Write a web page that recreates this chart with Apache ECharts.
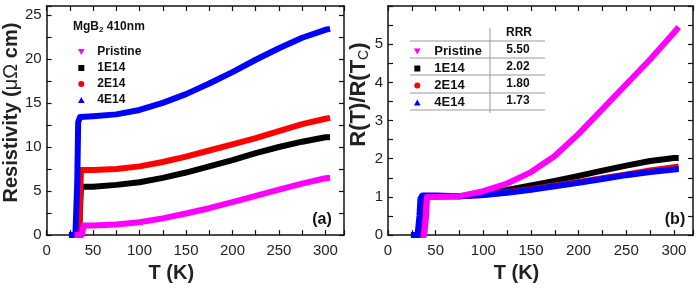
<!DOCTYPE html>
<html>
<head>
<meta charset="utf-8">
<script src="https://cdn.jsdelivr.net/npm/echarts@6/dist/echarts.min.js"></script>
<style>
  html, body { margin: 0; padding: 0; background: #fff; }
  #chart { width: 698px; height: 288px; }
</style>
</head>
<body>
<div id="chart"></div>
<script>
// panel (a): resistivity (μΩ cm) vs T (K)
const tPristineA = [30, 38, 39, 40, 50, 75, 100, 125, 150, 175, 200, 225, 250, 275, 300, 305]
const rhoPristine = [0, 0, 0.6, 1.1, 1.1, 1.2, 1.45, 1.9, 2.45, 3.05, 3.75, 4.45, 5.15, 5.85, 6.45, 6.5]
const tDoseA = [30, 35, 36, 37, 50, 75, 100, 125, 150, 175, 200, 225, 250, 275, 300, 305]
const rho1E14 = [0, 0, 3, 5.5, 5.5, 5.7, 6.0, 6.5, 7.1, 7.8, 8.5, 9.3, 10.0, 10.6, 11.1, 11.1]
const rho2E14 = [0, 0, 4, 7.4, 7.4, 7.5, 7.8, 8.3, 8.9, 9.6, 10.3, 11.0, 11.8, 12.6, 13.2, 13.3]
const t4E14A = [24, 31, 33, 34, 36, 50, 75, 100, 125, 150, 175, 200, 225, 250, 275, 300, 305]
const rho4E14 = [0, 0, 6, 12.8, 13.4, 13.5, 13.7, 14.2, 15.0, 16.0, 17.2, 18.5, 19.9, 21.2, 22.4, 23.3, 23.4]

// panel (b): R(T)/R(Tc) vs T (K)
const tPristineB = [35, 38, 40, 41, 50, 75, 100, 125, 150, 175, 200, 225, 250, 275, 300, 305]
const ratioPristine = [0, 0, 0.5, 1.0, 1.0, 1.02, 1.15, 1.35, 1.65, 2.07, 2.65, 3.3, 3.95, 4.6, 5.3, 5.45]
const tDoseB = [30, 35, 36, 37, 50, 75, 100, 125, 150, 175, 200, 225, 250, 275, 300, 305]
const ratio1E14 = [0, 0, 0.6, 1.02, 1.02, 1.02, 1.08, 1.18, 1.3, 1.42, 1.55, 1.69, 1.82, 1.94, 2.02, 2.02]
const ratio2E14 = [0, 0, 0.6, 1.02, 1.02, 1.02, 1.05, 1.12, 1.2, 1.3, 1.39, 1.49, 1.59, 1.69, 1.78, 1.8]
const t4E14B = [24, 31, 33, 34, 36, 50, 75, 100, 125, 150, 175, 200, 225, 250, 275, 300, 305]
const ratio4E14 = [0, 0, 0.5, 0.95, 1.04, 1.04, 1.02, 1.05, 1.11, 1.19, 1.28, 1.37, 1.47, 1.57, 1.65, 1.72, 1.73]

const sampleNames = ['Pristine', '1E14', '2E14', '4E14']
const rrrValues = ['5.50', '2.02', '1.80', '1.73']
const sampleColors = ['#ff00ff', '#000000', '#ff0000', '#0000ff']
const sampleIcons = [
  'path://M0,0L10,0L5,9Z',
  'path://M0,0H10V10H0Z',
  'path://M5,0A5,5,0,1,1,5,10A5,5,0,1,1,5,0Z',
  'path://M5,0L10,9L0,9Z'
]

const FONT = 'Liberation Sans, Arial, Helvetica, sans-serif'

function pairs(xs, ys) {
  return xs.map((x, i) => [x, ys[i]])
}

const chart = echarts.init(document.getElementById('chart'))

function xAxisFor(grid, top) {
  return {
    type: 'value',
    gridIndex: grid,
    position: top ? 'top' : 'bottom',
    min: 0,
    max: 320,
    interval: 25,
    axisLine: { show: true, onZero: false, lineStyle: { color: '#111', width: 1.5 } },
    axisTick: { show: true, inside: true, length: 5, lineStyle: { color: '#111', width: 1.2 } },
    axisLabel: {
      show: !top,
      margin: 8,
      fontSize: 15,
      fontFamily: FONT,
      color: '#222',
      formatter: v => (v % 50 === 0 ? String(v) : '')
    },
    splitLine: { show: false },
    name: top ? '' : 'T (K)',
    nameLocation: 'middle',
    nameGap: 27,
    nameTextStyle: { fontSize: 20, fontWeight: 'bold', fontFamily: FONT, color: '#222', padding: [0, 48, 0, 0] }
  }
}

function yAxisFor(grid, right, max, step, labelStep, name, gap, size, shift, rich) {
  return {
    type: 'value',
    gridIndex: grid,
    position: right ? 'right' : 'left',
    min: 0,
    max: max,
    interval: step,
    axisLine: { show: true, onZero: false, lineStyle: { color: '#111', width: 1.5 } },
    axisTick: { show: true, inside: true, length: 5, lineStyle: { color: '#111', width: 1.2 } },
    axisLabel: {
      show: !right,
      margin: 5,
      fontSize: 15,
      fontFamily: FONT,
      color: '#222',
      formatter: v => (Math.abs(v / labelStep - Math.round(v / labelStep)) < 1e-6 && v < max ? String(v) : '')
    },
    splitLine: { show: false },
    name: right ? '' : name,
    nameLocation: 'middle',
    nameGap: gap,
    nameTextStyle: {
      fontSize: size, fontWeight: 'bold', fontFamily: FONT, color: '#222',
      padding: [0, 0, 0, shift || 0], rich: rich
    }
  }
}

const panelA = [rhoPristine, rho1E14, rho2E14, rho4E14]
const panelATemps = [tPristineA, tDoseA, tDoseA, t4E14A]
const panelB = [ratioPristine, ratio1E14, ratio2E14, ratio4E14]
const panelBTemps = [tPristineB, tDoseB, tDoseB, t4E14B]

const series = []
sampleNames.forEach((name, i) => {
  series.push({
    name: name,
    type: 'line',
    xAxisIndex: 0,
    yAxisIndex: 0,
    data: pairs(panelATemps[i], panelA[i]),
    showSymbol: false,
    color: sampleColors[i],
    lineStyle: { width: 6, color: sampleColors[i], join: 'round' },
    z: i === 0 ? 3 : 2
  })
})
sampleNames.forEach((name, i) => {
  series.push({
    name: name,
    type: 'line',
    xAxisIndex: 2,
    yAxisIndex: 2,
    data: pairs(panelBTemps[i], panelB[i]),
    showSymbol: false,
    color: sampleColors[i],
    lineStyle: { width: 6, color: sampleColors[i], join: 'round' },
    z: i === 0 ? 3 : 2
  })
})

const legendData = sampleNames.map((n, i) => ({ name: n, icon: sampleIcons[i] }))

// table lines and RRR values beside the (b) legend
const tableGraphics = []
;[41, 58, 75, 93, 110].forEach(y => {
  tableGraphics.push({
    type: 'line',
    shape: { x1: 410, y1: y, x2: 545, y2: y },
    style: { stroke: '#999', lineWidth: 1 }
  })
})
tableGraphics.push({
  type: 'line',
  shape: { x1: 490, y1: 28, x2: 490, y2: 113 },
  style: { stroke: '#999', lineWidth: 1 }
})
tableGraphics.push({
  type: 'text',
  x: 519, y: 33,
  style: { text: 'RRR', font: 'bold 12px ' + FONT, fill: '#111', align: 'center', verticalAlign: 'middle' }
})
rrrValues.forEach((v, i) => {
  tableGraphics.push({
    type: 'text',
    x: 518, y: 50 + i * 17,
    style: { text: v, font: 'bold 12px ' + FONT, fill: '#111', align: 'center', verticalAlign: 'middle' }
  })
})

const option = {
  animation: false,
  backgroundColor: '#fff',
  grid: [
    { left: 40, top: 6, width: 304, height: 232 },
    { left: 388, top: 6, width: 305, height: 232 }
  ],
  xAxis: [xAxisFor(0, false), xAxisFor(0, true), xAxisFor(1, false), xAxisFor(1, true)],
  yAxis: [
    yAxisFor(0, false, 26, 2.5, 5, 'Resistivity ({n|μΩ} cm)', 22, 20, 16, { n: { fontSize: 20, fontWeight: 'normal', fontFamily: FONT, color: '#222' } }),
    yAxisFor(0, true, 26, 2.5, 5, '', 0, 15),
    yAxisFor(1, false, 6, 0.5, 1, 'R(T)/R(T{s|C})', 15, 22, 52, { s: { fontSize: 14, fontWeight: 'normal', fontFamily: FONT, color: '#222', padding: [9, 0, 0, 0] } }),
    yAxisFor(1, true, 6, 0.5, 1, '', 0, 15)
  ],
  legend: [
    {
      orient: 'vertical',
      left: 78,
      top: 46,
      padding: 0,
      itemWidth: 22,
      itemHeight: 6,
      itemGap: 4,
      selectedMode: false,
      data: legendData,
      textStyle: { fontSize: 12, fontWeight: 'bold', fontFamily: FONT, color: '#111' }
    },
    {
      orient: 'vertical',
      left: 414,
      top: 45,
      padding: 0,
      itemWidth: 24,
      itemHeight: 6,
      itemGap: 4,
      selectedMode: false,
      data: legendData,
      textStyle: { fontSize: 13, fontWeight: 'bold', fontFamily: FONT, color: '#111' }
    }
  ],
  graphic: [
    {
      type: 'text',
      x: 73, y: 27,
      style: {
        text: 'MgB{s|2} 410nm',
        font: 'bold 12px ' + FONT,
        fill: '#111',
        verticalAlign: 'middle',
        rich: { s: { fontSize: 8, fontWeight: 'bold', fontFamily: FONT, fill: '#111', padding: [6, 0, 0, 0] } }
      }
    },
    {
      type: 'text',
      x: 322, y: 220,
      style: { text: '(a)', font: 'bold 16px ' + FONT, fill: '#111', align: 'center', verticalAlign: 'middle' }
    },
    {
      type: 'text',
      x: 675, y: 220,
      style: { text: '(b)', font: 'bold 16px ' + FONT, fill: '#111', align: 'center', verticalAlign: 'middle' }
    }
  ].concat(tableGraphics),
  series: series
}

chart.setOption(option)
</script>
</body>
</html>
